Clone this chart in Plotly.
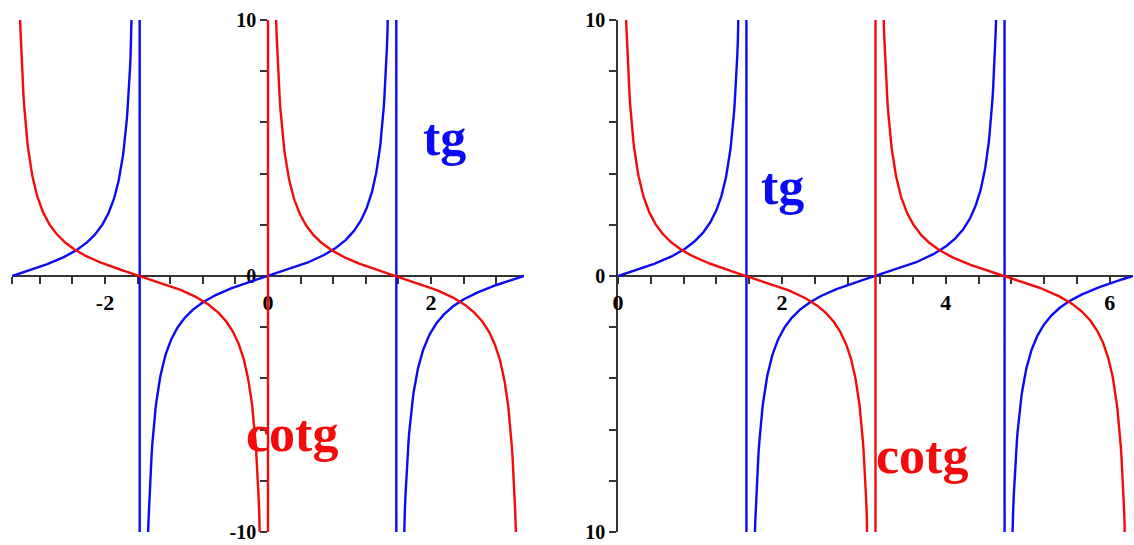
import numpy as np
import plotly.graph_objects as go

# Sample grids for the two panels: [-pi, pi] and [0, 2pi]
n_samples = 800
x_left = np.linspace(-np.pi, np.pi, n_samples)
x_right = np.linspace(0.0, 2.0 * np.pi, n_samples)

y_range = [-10, 10]
x_major_left = [-2, 0, 2]
x_major_right = [0, 2, 4, 6]
y_major = [-10, 0, 10]
y_labels_left = ["-10", "0", "10"]
y_labels_right = ["10", "0", "10"]

BLUE = "#0a0af5"
RED = "#f50a0a"
AXIS = "#333333"
SERIF = "Liberation Serif"
LW = 2.4


def tg(x):
    with np.errstate(divide="ignore", invalid="ignore"):
        y = np.sin(x) / np.cos(x)
    return clean(y)


def cotg(x):
    with np.errstate(divide="ignore", invalid="ignore"):
        y = np.cos(x) / np.sin(x)
    return clean(y)


def clean(y):
    # keep huge values near the asymptotes finite so the jump is drawn as a vertical stroke
    y = np.clip(y, -1e3, 1e3)
    out = y.astype(object)
    out[~np.isfinite(y)] = None
    return list(out)


W, H = 1134, 545
# plot areas in pixels
left_px = (12, 524)
right_px = (618, 1133)
top_px, bottom_px = 20, 532

xdom_left = [left_px[0] / W, left_px[1] / W]
xdom_right = [right_px[0] / W, right_px[1] / W]
ydom = [1 - bottom_px / H, 1 - top_px / H]
y_zero_pos = (ydom[0] + ydom[1]) / 2
y_axis_left_pos = xdom_left[0] + (0 - (-np.pi)) / (2 * np.pi) * (xdom_left[1] - xdom_left[0])

fig = go.Figure()
fig.add_trace(go.Scatter(x=x_left, y=tg(x_left), mode="lines",
                         line=dict(color=BLUE, width=LW), xaxis="x", yaxis="y"))
fig.add_trace(go.Scatter(x=x_left, y=cotg(x_left), mode="lines",
                         line=dict(color=RED, width=LW), xaxis="x", yaxis="y"))
fig.add_trace(go.Scatter(x=x_right, y=tg(x_right), mode="lines",
                         line=dict(color=BLUE, width=LW), xaxis="x2", yaxis="y2"))
fig.add_trace(go.Scatter(x=x_right, y=cotg(x_right), mode="lines",
                         line=dict(color=RED, width=LW), xaxis="x2", yaxis="y2"))

xtickfont = dict(family=SERIF, size=22, color="black", weight="bold")
ytickfont = dict(family=SERIF, size=20, color="black", weight="bold")

common_x = dict(showgrid=False, zeroline=False, showline=True, linecolor=AXIS,
                linewidth=1.5, ticks="outside", ticklen=7, tickwidth=1.5,
                tickcolor=AXIS, tickfont=xtickfont, layer="below traces",
                anchor="free", position=y_zero_pos, fixedrange=True,
                ticklabeloverflow="allow")
common_y = dict(showgrid=False, zeroline=False, showline=True, linecolor=AXIS,
                linewidth=1.5, ticks="outside", ticklen=7, tickwidth=1.5,
                tickcolor=AXIS, tickfont=ytickfont, layer="below traces",
                range=y_range, domain=ydom, fixedrange=True,
                ticklabeloverflow="allow",
                minor=dict(dtick=2, tick0=0, ticks="outside", ticklen=7,
                           tickwidth=1.5, tickcolor=AXIS))

fig.update_layout(
    width=W, height=H,
    margin=dict(l=0, r=0, t=0, b=0, autoexpand=False),
    paper_bgcolor="white", plot_bgcolor="white",
    showlegend=False,
    xaxis=dict(**common_x, range=[-np.pi, np.pi], domain=xdom_left,
               tickvals=x_major_left, ticktext=[str(v) for v in x_major_left],
               minor=dict(tickvals=[-np.pi] + list(np.arange(-2.8, 3.21, 0.4)),
                          ticks="outside", ticklen=7, tickwidth=1.5, tickcolor=AXIS)),
    yaxis=dict(**common_y, anchor="free", position=y_axis_left_pos,
               tickvals=y_major, ticktext=y_labels_left),
    xaxis2=dict(**common_x, range=[0, 2 * np.pi], domain=xdom_right,
                tickvals=x_major_right, ticktext=[str(v) for v in x_major_right],
                minor=dict(dtick=0.4, tick0=0, ticks="outside", ticklen=7,
                           tickwidth=1.5, tickcolor=AXIS)),
    yaxis2=dict(**common_y, anchor="x2",
                tickvals=y_major, ticktext=y_labels_right),
)

label_font = dict(family=SERIF, size=52, weight="bold")
fig.add_annotation(x=2.17, y=5.4, xref="x", yref="y", text="tg", showarrow=False,
                   font=dict(**label_font, color=BLUE))
fig.add_annotation(x=0.29, y=-6.15, xref="x", yref="y", text="cotg", showarrow=False,
                   font=dict(**label_font, color=RED))
fig.add_annotation(x=2.01, y=3.5, xref="x2", yref="y2", text="tg", showarrow=False,
                   font=dict(**label_font, color=BLUE))
fig.add_annotation(x=3.71, y=-7.02, xref="x2", yref="y2", text="cotg", showarrow=False,
                   font=dict(**label_font, color=RED))

fig.write_html("out.html", config=dict(displayModeBar=False))
